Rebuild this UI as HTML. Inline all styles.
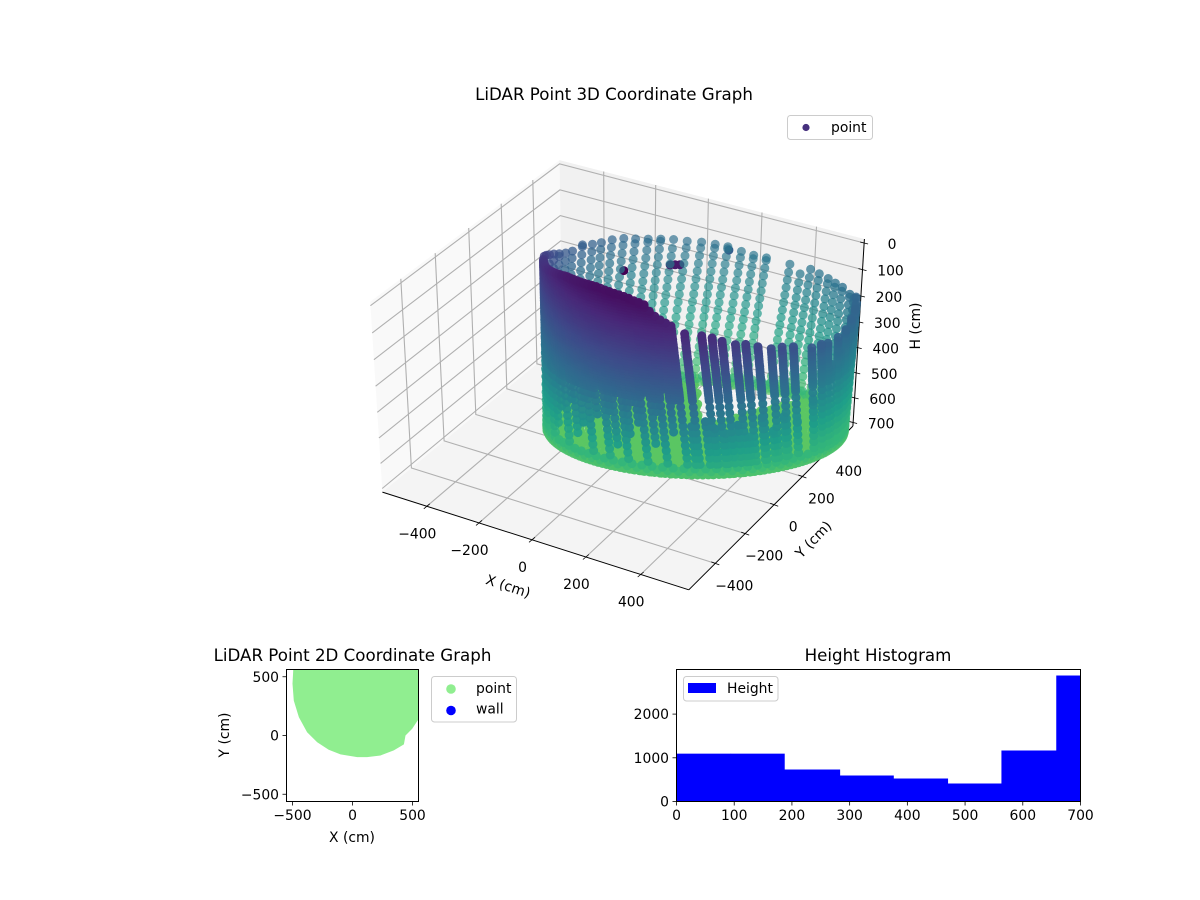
<!DOCTYPE html>
<html lang="en"><head><meta charset="utf-8"><title>LiDAR Point Graphs</title>
<style>
html,body{margin:0;padding:0;background:#fff}
svg{display:block}
text{font-family:"DejaVu Sans","Liberation Sans",sans-serif;fill:#000}
</style></head>
<body>
<svg id="fig" xmlns="http://www.w3.org/2000/svg" width="1200" height="900" viewBox="0 0 1200 900">
<rect width="1200" height="900" fill="#fff"/>
<g id="panes"></g>
<g id="grid3d"></g>
<g id="axes3d"></g>
<g id="points3d"></g>
<text x="614" y="100" font-size="16.67" text-anchor="middle">LiDAR Point 3D Coordinate Graph</text>
<text transform="translate(508,587) rotate(18.3)" font-size="13.9" text-anchor="middle" dominant-baseline="central">X (cm)</text>
<text transform="translate(814,540) rotate(-46)" font-size="13.9" text-anchor="middle" dominant-baseline="central">Y (cm)</text>
<text transform="translate(916,326) rotate(-90)" font-size="13.9" text-anchor="middle" dominant-baseline="central">H (cm)</text>
<g>
<rect x="787.5" y="115.5" width="85" height="24" rx="3" fill="#fff" fill-opacity=".8" stroke="#ccc"/>
<circle cx="806" cy="127.5" r="3.6" fill="#46307e"/>
<text x="831" y="132" font-size="13.9">point</text>
</g>

<defs><clipPath id="clip2d"><rect x="286" y="669" width="132" height="132"/></clipPath></defs>
<g id="scatter2d" clip-path="url(#clip2d)"></g>
<rect x="286.5" y="669.5" width="132" height="132" fill="none" stroke="#000" stroke-width="1"/>
<g id="ticks2d"></g>
<text x="352.5" y="661" font-size="16.67" text-anchor="middle">LiDAR Point 2D Coordinate Graph</text>
<text x="352" y="842" font-size="13.9" text-anchor="middle">X (cm)</text>
<text transform="translate(225,735) rotate(-90)" font-size="13.9" text-anchor="middle" dominant-baseline="central">Y (cm)</text>
<g>
<rect x="431.5" y="676.5" width="85" height="45.5" rx="3" fill="#fff" fill-opacity=".8" stroke="#ccc"/>
<circle cx="451" cy="689" r="4.8" fill="#90ee90"/>
<text x="476" y="693" font-size="13.9">point</text>
<circle cx="451" cy="710.5" r="4.8" fill="#0000ff"/>
<text x="476" y="713.5" font-size="13.9">wall</text>
</g>

<g id="hist"></g>
<rect x="676.5" y="669.5" width="404" height="132" fill="none" stroke="#000" stroke-width="1"/>
<g id="histTicks"></g>
<text x="878" y="661" font-size="16.67" text-anchor="middle">Height Histogram</text>
<g>
<rect x="683.5" y="676.5" width="94.5" height="24.5" rx="3" fill="#fff" fill-opacity=".8" stroke="#ccc"/>
<rect x="688" y="683" width="28" height="10" fill="#0000ff"/>
<text x="727" y="693" font-size="13.9">Height</text>
</g>
</svg>
<script>
// ---------- data ----------
const xTicks3d=[-400,-200,0,200,400];
const yTicks3d=[-400,-200,0,200,400];
const hTicks3d=[0,100,200,300,400,500,600,700];
const sparseAngles=[3,9.2,15.8,22.5,29.2,36.5,40.6,45.9,55,60,64.5,69.8,74.5,78.3,83.2,86.8,90.5,96.6];
const sparseTops=[190,195,212,235,246,250,244,246,224,217,217,203,190,188,173,160,152,146];
const denseAngles=[101.5,103.5,105.5,107.5,109.5,111.5,113.5,115.5,117.5,119.5,121.5,123.5,125.5,127.5,129.5,131.5,133.5,135.5,137.5,139.5,141.5,143.5,145.5,147.5,149.5,151.5,153.5,155.5,157.5,159.5,161.5,163.5,165.5,167.5,169.5,171.5,173.5,175.5,177.5,179.5];
const denseTops=[120,110,100,88,72,50,44,40,34,30,27,25,22,20,17,15,15,15,15,15,15,15,15,15,17,20,22,25,27,30,32,35,37,40,40,40,40,40,40,40];
const denseStops=[650,400,525,360,650,450,575,380,650,500,425,550,650,400,600,475,650,375,500,425,650,450,550,400,600,475,350,650,425,525,375,600,450,650,400,550,475,650,500,650];
const lowerAngles=[6,12.5,19,26,33,38.5,43,51,57.5,62,67,72,76.5,81,85,88.5,93.5];
const lowerTops=[240,260,280,300,340,400,460,520,490,540,480,550,500,530,510,480,500];
const backAngles=[185,190,195,200,205,210,214.6,220.6,225.9,230.3,235.3,240.4,245.3,250.4,255.3,260.2,265.3,270.7,275.8,280.6,285.8,290.7,295.9,306.1,311.1,316.2,321.1,326.6,331.6,337.5,345.5,352,357];
const backTops=[44,55,67,78,90,100,104,94,102,104,102,104,112,118,122,126,134,138,145,152,166,176,180,188,216,188,194,199,204,204,208,205,185];
const frontLayers=[20,30,40,50,60,70,80,90,100,110,120,130,140,150,160,170,180,190,200,210,220,230,240,250,260,270,280,290,300,310,320,330,340,350,360,370,380,390,400,425,450,475,500,525,550,575,600,625,650];
const backLayers=[100,130,160,190,220,250,280,310,340,370,400,430,460,490,520,550,580,610,640,670,700];
const baseAngles=[0,4,8,12,16,20,24,28,32,36,40,44,48,52,56,60,64,68,72,76,80,84,88,92,96,100,104,108,112,116,120,124,128,132,136,140,144,148,152,156,160,164,168,172,176,180,184,188,192,196,200,204,208,212,216,220,224,228,232,236,240,244,248,252,256,260,264,268,272,276,280,284,288,292,296,300,304,308,312,316,320,324,328,332,336,340,344,348,352,356];
const baseLayers=[668,680,692,692];
const baseOffsets=[0,2,3,1];
const floorFractions=[0.96,0.9,0.84,0.78,0.72,0.66,0.6,0.54,0.48,0.42,0.36,0.3,0.24,0.18,0.12,0.06];
const floorOffsets=[1,3,0,2,1,3,0,2,1,3,0,2,1,3,0,2];
const strayAngles=[240.4,259,260.9,262.7,281];
const strayHeights=[228,224,224,224,165];
const strayColors=[0.0,0.06,0.07,0.07,0.3];
const outlineX=[-494,-500,-489,-447,-378,-294,-198,-100,39,122,233,344,428,442,497,552,600,600,-494];
const outlineY=[550,440,297,155,28,-57,-121,-161,-184,-184,-170,-127,-76,0,56,141,141,600,600];
const ticks2dX=[-500,0,500];
const ticks2dY=[-500,0,500];
const histEdges=[0,94,187,283,376,470,563,658,700];
const histValues=[1095,1095,732,595,526,412,1167,2883];
const histXTicks=[0,100,200,300,400,500,600,700];
const histYTicks=[0,1000,2000];
const viridisStops=['#440154','#482878','#3e4989','#31688e','#26828e','#1f9e89','#35b779','#6ece58','#b5de2b','#fde725'];

// ---------- helpers ----------
const NS='http://www.w3.org/2000/svg';
function mk(tag,parent,attrs,txt){const e=document.createElementNS(NS,tag);for(const k in attrs)e.setAttribute(k,attrs[k]);if(txt!==undefined)e.textContent=txt;parent.appendChild(e);return e;}
function hex(c){return [parseInt(c.slice(1,3),16),parseInt(c.slice(3,5),16),parseInt(c.slice(5,7),16)];}
function viridis(t){t=Math.max(0,Math.min(1,t))*(viridisStops.length-1);const i=Math.min(Math.floor(t),viridisStops.length-2),f=t-i,a=hex(viridisStops[i]),b=hex(viridisStops[i+1]);
 return 'rgb('+[0,1,2].map(k=>Math.round(a[k]+(b[k]-a[k])*f)).join(',')+')';}

// ---------- 3D camera / axis functions ----------
const XLIM=[-573,573],YLIM=[-573,573],HLIM=[714.6,-14.6];
const ELEV=35*Math.PI/180,AZIM=-60*Math.PI/180,DIST=10,HALF=[0.5714,0.5714,0.4286];
const eyeDir=[Math.cos(ELEV)*Math.cos(AZIM),Math.cos(ELEV)*Math.sin(AZIM),Math.sin(ELEV)];
const rightDir=[-Math.sin(AZIM),Math.cos(AZIM),0];
const upDir=[-Math.sin(ELEV)*Math.cos(AZIM),-Math.sin(ELEV)*Math.sin(AZIM),Math.cos(ELEV)];
function dot(a,b){return a[0]*b[0]+a[1]*b[1]+a[2]*b[2];}
function project(x,y,h){
 const p=[((x-XLIM[0])/(XLIM[1]-XLIM[0])*2-1)*HALF[0],((y-YLIM[0])/(YLIM[1]-YLIM[0])*2-1)*HALF[1],((h-HLIM[0])/(HLIM[1]-HLIM[0])*2-1)*HALF[2]];
 const d=DIST-dot(eyeDir,p);
 return {x:621.6+3087*dot(rightDir,p)/d,y:366.5-2686*dot(upDir,p)/d,d:d};
}
function poly(parent,pts,fill){return mk('polygon',parent,{points:pts.map(p=>p.x.toFixed(1)+','+p.y.toFixed(1)).join(' '),fill:fill});}
function seg(parent,a,b,stroke,w){return mk('line',parent,{x1:a.x.toFixed(1),y1:a.y.toFixed(1),x2:b.x.toFixed(1),y2:b.y.toFixed(1),stroke:stroke,'stroke-width':w});}

// panes
const paneG=document.getElementById('panes');
const [x0,x1]=XLIM,[y0,y1]=YLIM,[hB,hT]=HLIM;
const paneL=poly(paneG,[project(x0,y0,hB),project(x0,y1,hB),project(x0,y1,hT),project(x0,y0,hT)],'#f9f9f9');


const paneB=poly(paneG,[project(x0,y1,hB),project(x1,y1,hB),project(x1,y1,hT),project(x0,y1,hT)],'#f1f1f1');


const paneF=poly(paneG,[project(x0,y0,hB),project(x1,y0,hB),project(x1,y1,hB),project(x0,y1,hB)],'#f4f4f4');



// grid
const gridG=document.getElementById('grid3d');
const GC='#b0b0b0',GW=1.1;
function gridPath(a,b,c){const e=mk('polyline',gridG,{points:[a,b,c].map(p=>p.x.toFixed(1)+','+p.y.toFixed(1)).join(' '),fill:'none',stroke:GC,'stroke-width':GW});return e;}
xTicks3d.forEach(v=>{
 const g=gridPath(project(v,y0,hB),project(v,y1,hB),project(v,y1,hT));
 
 
});
yTicks3d.forEach(v=>{
 const g=gridPath(project(x1,v,hB),project(x0,v,hB),project(x0,v,hT));
 
 
});
hTicks3d.forEach(v=>{
 const g=gridPath(project(x0,y0,v),project(x0,y1,v),project(x1,y1,v));
 
 
});

// axes lines, ticks and labels
const axG=document.getElementById('axes3d');
const axX=seg(axG,project(x0,y0,hB),project(x1,y0,hB),'#000',1);


const axY=seg(axG,project(x1,y0,hB),project(x1,y1,hB),'#000',1);


const axH=seg(axG,project(x1,y1,hB),project(x1,y1,hT),'#000',1);


function lab(v){return String(v).replace('-','\u2212');}
xTicks3d.forEach(v=>{
 const p=project(v,y0,hB);
 const t=seg(axG,{x:p.x-3,y:p.y+2.5},{x:p.x+3,y:p.y-2.5},'#000',.8);
 
 
 const l=mk('text',axG,{x:(p.x-9.5).toFixed(1),y:(p.y+32).toFixed(1),'font-size':13.9,'text-anchor':'middle'},lab(v));
 
 
});
yTicks3d.forEach(v=>{
 const p=project(x1,v,hB);
 const t=seg(axG,{x:p.x-4,y:p.y-1.5},{x:p.x+4,y:p.y+1.5},'#000',.8);
 
 
 const l=mk('text',axG,{x:(p.x+19).toFixed(1),y:(p.y+27).toFixed(1),'font-size':13.9,'text-anchor':'middle'},lab(v));
 
 
});
hTicks3d.forEach(v=>{
 const p=project(x1,y1,v);
 const t=seg(axG,{x:p.x-4,y:p.y-1},{x:p.x+4,y:p.y+1},'#000',.8);
 
 
 const l=mk('text',axG,{x:(p.x+28).toFixed(1),y:(p.y+6).toFixed(1),'font-size':13.9,'text-anchor':'middle'},lab(v));
 
 
});

// ---------- wall point cloud ----------
const RING_C=[141,274],RING_A=[446,250],RING_B=[152,-265],TWIST=9,R=4.5;
function ringXY(deg,f){const a=deg*Math.PI/180,c=Math.cos(a),s=Math.sin(a);
 return [RING_C[0]+f*(c*RING_A[0]+s*RING_B[0]),RING_C[1]+f*(c*RING_A[1]+s*RING_B[1])];}
function taper(deg,h){const c=Math.cos(deg*Math.PI/180);return c>0?1-0.04*c*h/700:1;}
function heightShade(h,deg){
 const a=deg*Math.PI/180,s=Math.sin(a),c=Math.cos(a);
 let back=(1-s)/2;
 if(c>0)back=Math.pow(back,0.5);
 const front=h<400?0.03+0.30*(h-40)/360:0.33+0.27*(h-400)/250;
 const rear=0.36+0.38*(h-120)/580;
 return front*(1-back)+rear*back;
}
const cloud=[];
function addPoint(deg,f,h,t,alpha){const q=ringXY(deg,f),p=project(q[0],q[1],h);cloud.push({x:p.x,y:p.y,d:p.d,t:t,a:alpha});}
function alphaFor(deg){return 0.68+0.32*(Math.sin(deg*Math.PI/180)+1)/2;}
function addColumn(deg,top,layers){
 [top].concat(layers.filter(h=>h>top+4)).forEach(h=>{
  const th=deg-TWIST*(h-top)/700;
  addPoint(th,taper(th,h),h,heightShade(h,th),alphaFor(th));
 });
}
sparseAngles.forEach((a,i)=>addColumn(a,sparseTops[i],frontLayers));
denseAngles.forEach((a,i)=>addColumn(a,denseTops[i],frontLayers.filter(h=>h<=denseStops[i])));
lowerAngles.forEach((a,i)=>addColumn(a,lowerTops[i],frontLayers));
backAngles.forEach((a,i)=>addColumn(a,backTops[i],backLayers));
floorFractions.forEach((f,i)=>baseAngles.forEach(a=>{
 const th=a+floorOffsets[i],rad=th*Math.PI/180;
 if(Math.cos(rad)>0&&Math.sin(rad)<-0.7)return;
 addPoint(th,f*taper(th,700),700,0.74,0.95);
}));
baseLayers.forEach((h,i)=>baseAngles.forEach(a=>{
 const th=a+baseOffsets[i];
 addPoint(th,taper(th,h),h,0.66+(h-668)/24*0.05,alphaFor(th));
}));
strayAngles.forEach((a,i)=>addPoint(a,1,strayHeights[i],strayColors[i],1));
cloud.sort((a,b)=>b.d-a.d);
const ptG=document.getElementById('points3d');
cloud.forEach(p=>{
 const c=document.createElementNS(NS,'circle');
 c.setAttribute('cx',p.x.toFixed(1));
 c.setAttribute('cy',p.y.toFixed(1));
 c.setAttribute('r',R);
 c.setAttribute('fill',viridis(p.t));
 c.setAttribute('fill-opacity',p.a.toFixed(2));
 
 
 ptG.appendChild(c);
});

// ---------- 2D scatter ----------
function sx2(v){return 352.5+v*0.12;}
function sy2(v){return 735.5-v*0.1175;}
const scG=document.getElementById('scatter2d');
const silhouette=mk('polygon',scG,{points:outlineX.map((x,i)=>sx2(x).toFixed(1)+','+sy2(outlineY[i]).toFixed(1)).join(' '),fill:'#90ee90'});


const tk2=document.getElementById('ticks2d');
ticks2dX.forEach(v=>{
 const x=sx2(v);
 const t=mk('line',tk2,{x1:x,x2:x,y1:802,y2:805.5,stroke:'#000','stroke-width':.8});
 
 
 const l=mk('text',tk2,{x:x,y:820,'font-size':13.9,'text-anchor':'middle'},lab(v));
 
 
});
ticks2dY.forEach(v=>{
 const y=sy2(v);
 const t=mk('line',tk2,{x1:286,x2:282.5,y1:y,y2:y,stroke:'#000','stroke-width':.8});
 
 
 const l=mk('text',tk2,{x:279,y:y+5,'font-size':13.9,'text-anchor':'end'},lab(v));
 
 
});

// ---------- histogram ----------
function hx(v){return 676.5+v*404/700;}
function hy(v){return 801.5-v*0.0437;}
const hG=document.getElementById('hist');
histValues.forEach((v,i)=>{
 const b=mk('rect',hG,{x:hx(histEdges[i]).toFixed(2),y:hy(v).toFixed(2),width:(hx(histEdges[i+1])-hx(histEdges[i])+.3).toFixed(2),height:(801.5-hy(v)).toFixed(2),fill:'#0000ff'});
 
 
});
const htG=document.getElementById('histTicks');
histXTicks.forEach(v=>{
 const x=hx(v);
 const t=mk('line',htG,{x1:x,x2:x,y1:802,y2:805.5,stroke:'#000','stroke-width':.8});
 
 
 const l=mk('text',htG,{x:x,y:820,'font-size':13.9,'text-anchor':'middle'},lab(v));
 
 
});
histYTicks.forEach(v=>{
 const y=hy(v);
 const t=mk('line',htG,{x1:676,x2:672.5,y1:y,y2:y,stroke:'#000','stroke-width':.8});
 
 
 const l=mk('text',htG,{x:669,y:y+5,'font-size':13.9,'text-anchor':'end'},lab(v));
 
 
});
</script>
</body></html>
